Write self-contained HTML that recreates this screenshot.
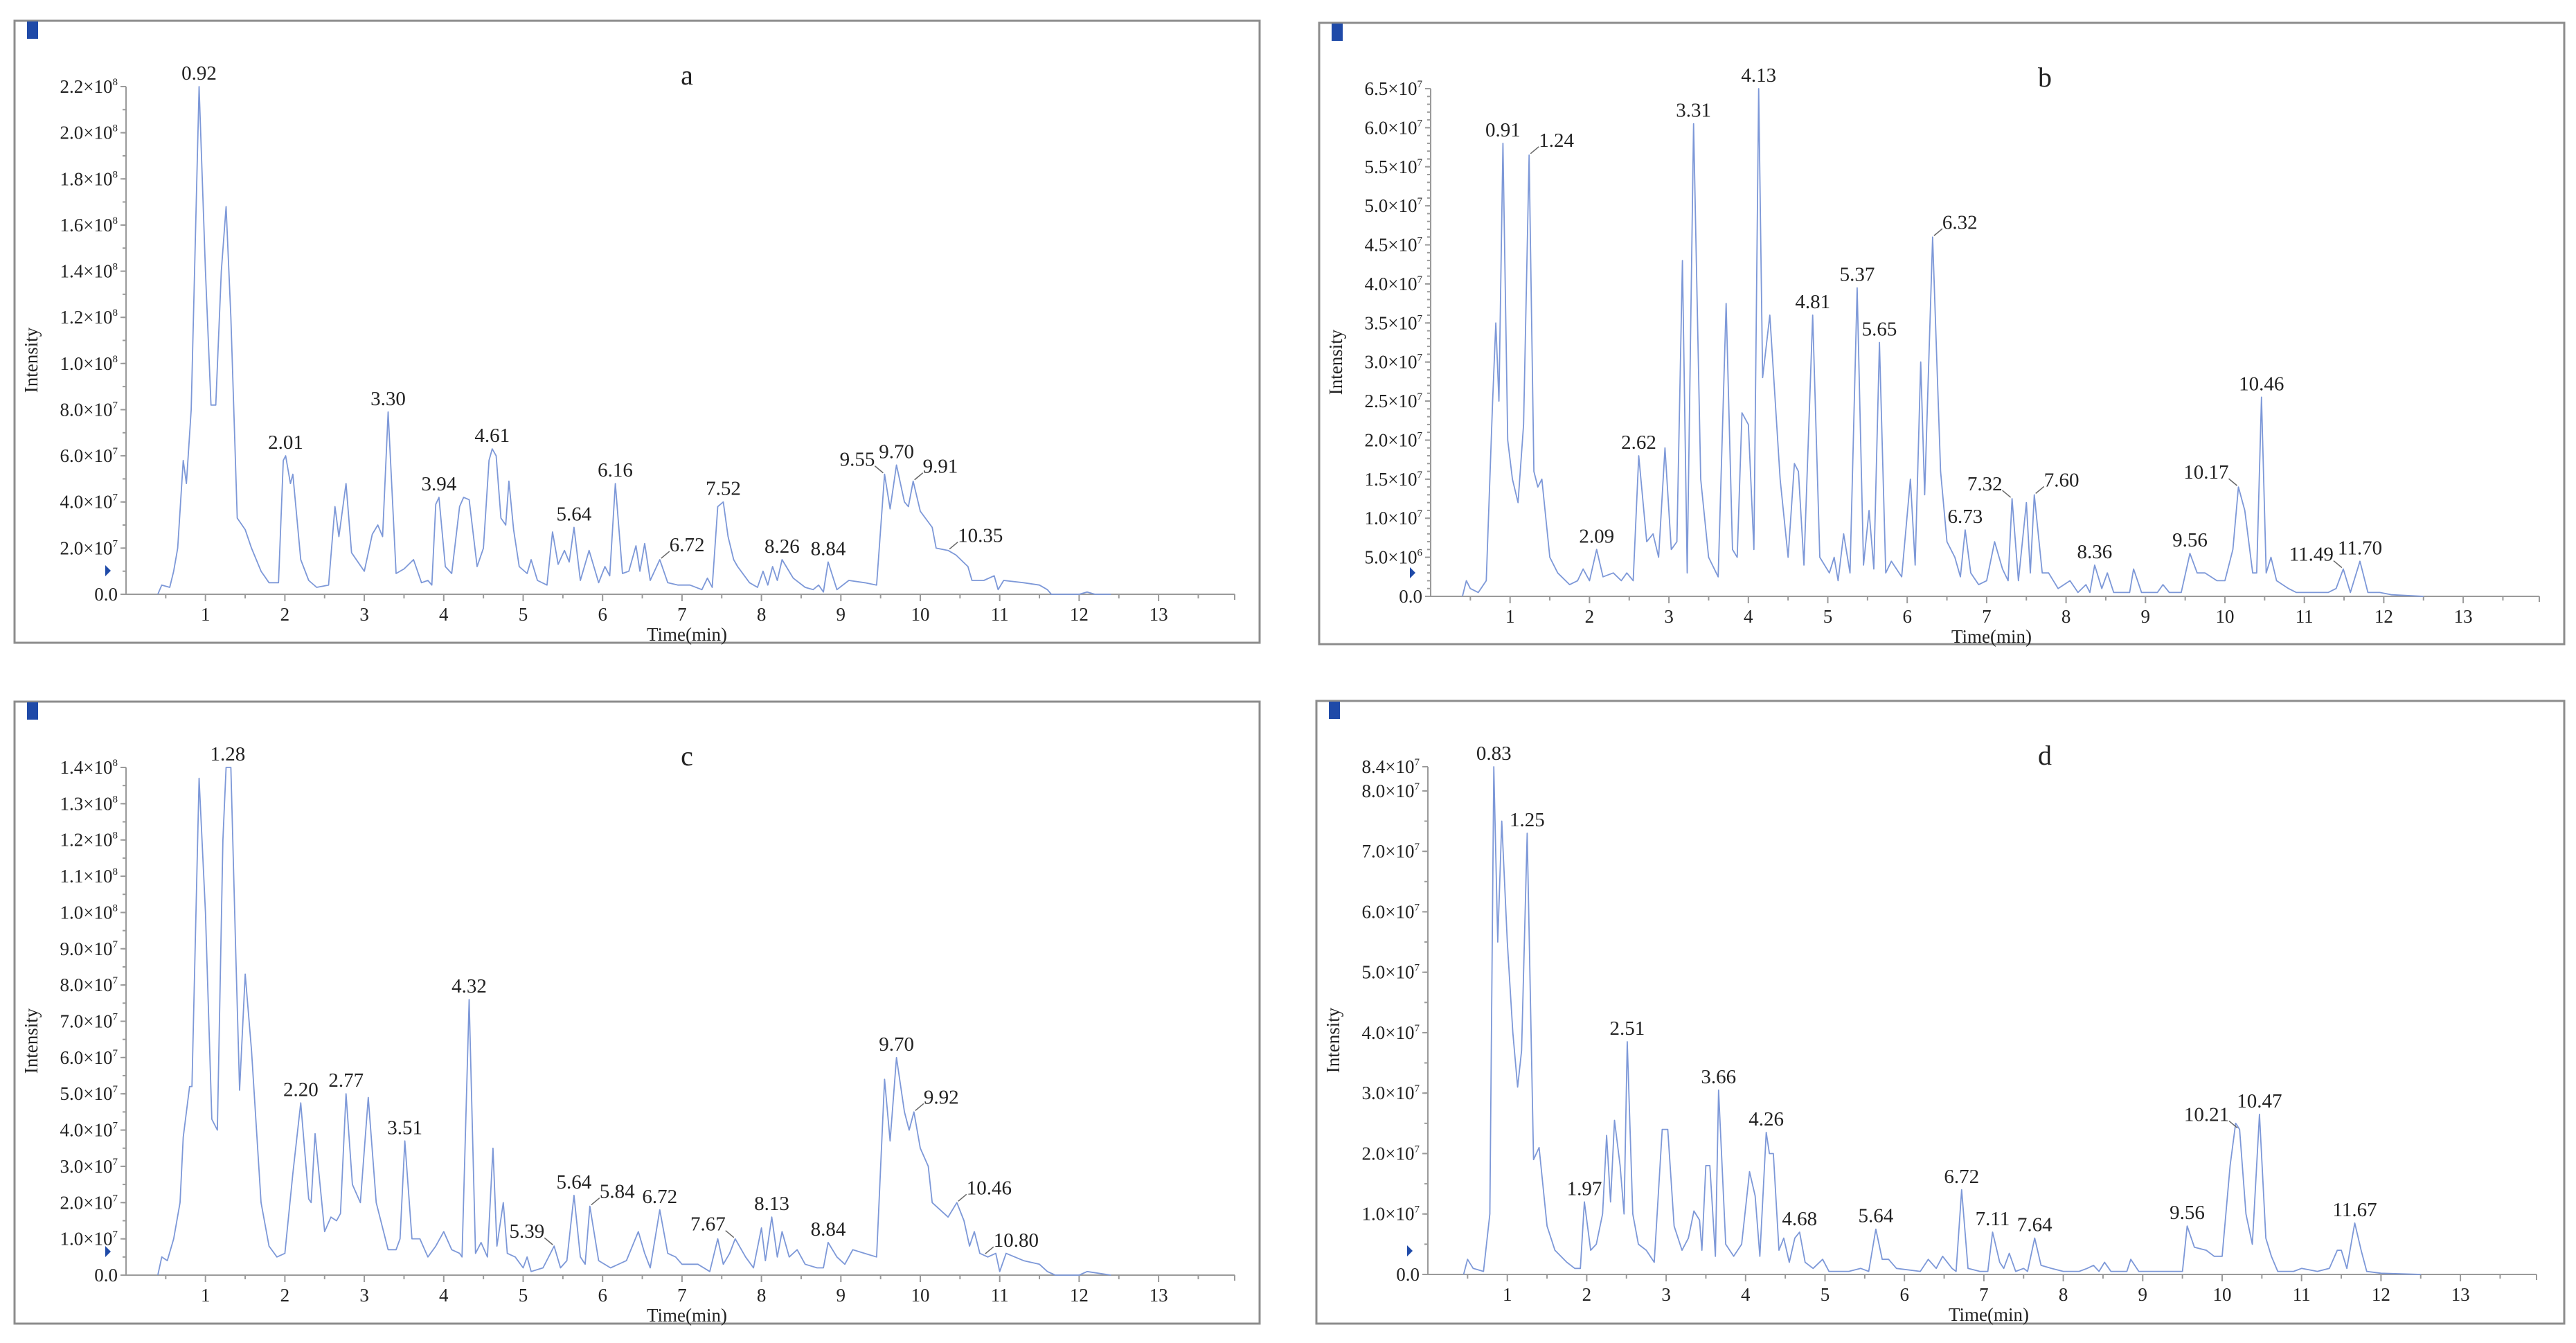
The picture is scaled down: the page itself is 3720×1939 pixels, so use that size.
<!DOCTYPE html>
<html><head><meta charset="utf-8">
<style>
html,body{margin:0;padding:0;background:#fff;}
svg{display:block;}
text{font-family:"Liberation Serif","DejaVu Serif",serif;fill:#222;}
</style></head>
<body>
<svg id="root" width="3720" height="1939" viewBox="0 0 3720 1939" xmlns="http://www.w3.org/2000/svg"></svg>
<script>
// ---------- DATA (intensity in units of 1e7, time in min) ----------
const aTimes=[0.40,0.45,0.55,0.60,0.65,0.72,0.76,0.82,0.92,1.00,1.07,1.13,1.20,1.26,1.32,1.40,1.50,1.58,1.70,1.80,1.92,1.98,2.01,2.07,2.10,2.20,2.30,2.40,2.55,2.63,2.68,2.77,2.84,3.00,3.10,3.17,3.23,3.30,3.40,3.50,3.62,3.72,3.80,3.85,3.90,3.94,4.02,4.10,4.20,4.25,4.32,4.42,4.50,4.57,4.61,4.66,4.72,4.78,4.82,4.88,4.95,5.05,5.10,5.18,5.30,5.37,5.44,5.52,5.58,5.64,5.72,5.83,5.95,6.03,6.09,6.16,6.25,6.33,6.42,6.47,6.53,6.60,6.72,6.82,6.95,7.10,7.25,7.32,7.38,7.45,7.52,7.58,7.65,7.70,7.85,7.95,8.02,8.08,8.14,8.20,8.26,8.40,8.55,8.65,8.72,8.78,8.84,8.95,9.10,9.30,9.45,9.55,9.62,9.70,9.80,9.85,9.91,10.00,10.15,10.20,10.35,10.45,10.60,10.65,10.80,10.93,10.98,11.05,11.30,11.50,11.60,11.65,12.00,12.10,12.20,12.40];
const aValues=[0,0.4,0.3,1.0,2.0,5.8,4.8,8.0,22,14,8.2,8.2,14,16.8,12,3.3,2.8,2.0,1.0,0.5,0.5,5.8,6.0,4.8,5.2,1.5,0.6,0.3,0.4,3.8,2.5,4.8,1.8,1.0,2.6,3.0,2.5,7.9,0.9,1.1,1.5,0.5,0.6,0.4,3.9,4.2,1.2,0.9,3.8,4.2,4.1,1.2,2.0,5.8,6.3,6.0,3.3,3.0,4.9,2.8,1.2,0.9,1.5,0.6,0.4,2.7,1.3,1.9,1.4,2.9,0.6,1.9,0.5,1.2,0.8,4.8,0.9,1.0,2.1,1.0,2.2,0.6,1.5,0.5,0.4,0.4,0.2,0.7,0.3,3.8,4.0,2.5,1.5,1.2,0.5,0.3,1.0,0.4,1.2,0.6,1.5,0.7,0.3,0.2,0.4,0.1,1.4,0.2,0.6,0.5,0.4,5.2,3.7,5.6,4.0,3.8,4.9,3.6,2.9,2.0,1.9,1.7,1.2,0.6,0.6,0.8,0.2,0.6,0.5,0.4,0.2,0,0,0.1,0,0];
const aLabels=["0.92","2.01","3.30","3.94","4.61","5.64","6.16","6.72","7.52","8.26","8.84","9.55","9.70","9.91","10.35"];
const aAnchor=["c","c","c","c","c","c","c","r","c","c","c","l","c","r","r"];
const aTickVals=[0,2,4,6,8,10,12,14,16,18,20,22];
const aTickLabels=["0.0","2.0×10|7","4.0×10|7","6.0×10|7","8.0×10|7","1.0×10|8","1.2×10|8","1.4×10|8","1.6×10|8","1.8×10|8","2.0×10|8","2.2×10|8"];

const bTimes=[0.40,0.45,0.50,0.60,0.70,0.78,0.82,0.86,0.91,0.97,1.03,1.10,1.17,1.24,1.30,1.35,1.40,1.50,1.60,1.75,1.85,1.92,2.00,2.09,2.17,2.30,2.40,2.47,2.55,2.62,2.72,2.80,2.87,2.95,3.03,3.10,3.17,3.23,3.31,3.40,3.50,3.62,3.72,3.80,3.86,3.92,4.00,4.07,4.13,4.18,4.27,4.40,4.50,4.58,4.63,4.70,4.81,4.90,5.02,5.08,5.13,5.20,5.28,5.37,5.45,5.52,5.58,5.65,5.73,5.80,5.93,6.04,6.10,6.17,6.22,6.32,6.42,6.50,6.60,6.67,6.73,6.80,6.90,7.00,7.10,7.20,7.27,7.32,7.40,7.50,7.55,7.60,7.70,7.78,7.90,8.05,8.15,8.25,8.30,8.36,8.45,8.52,8.60,8.80,8.85,8.95,9.15,9.22,9.30,9.45,9.56,9.65,9.75,9.90,10.00,10.10,10.17,10.25,10.35,10.40,10.46,10.52,10.58,10.65,10.80,10.90,11.30,11.40,11.49,11.58,11.70,11.80,11.95,12.10,12.50];
const bValues=[0,0.2,0.1,0.05,0.2,2.5,3.5,2.5,5.8,2.0,1.5,1.2,2.2,5.65,1.6,1.4,1.5,0.5,0.3,0.15,0.2,0.35,0.2,0.6,0.25,0.3,0.2,0.3,0.2,1.8,0.7,0.8,0.5,1.9,0.6,0.7,4.3,0.3,6.05,1.5,0.5,0.25,3.75,0.6,0.5,2.35,2.2,0.6,6.5,2.8,3.6,1.5,0.5,1.7,1.6,0.4,3.6,0.5,0.3,0.5,0.2,0.8,0.3,3.95,0.4,1.1,0.35,3.25,0.3,0.45,0.25,1.5,0.4,3.0,1.3,4.6,1.6,0.7,0.5,0.25,0.85,0.3,0.15,0.2,0.7,0.35,0.2,1.25,0.2,1.2,0.3,1.3,0.3,0.3,0.1,0.2,0.05,0.15,0.05,0.4,0.1,0.3,0.05,0.05,0.35,0.05,0.05,0.15,0.05,0.05,0.55,0.3,0.3,0.2,0.2,0.6,1.4,1.1,0.3,0.3,2.55,0.3,0.5,0.2,0.1,0.05,0.05,0.1,0.35,0.05,0.45,0.05,0.05,0.02,0];
const bLabels=["0.91","1.24","2.09","2.62","3.31","4.13","4.81","5.37","5.65","6.32","6.73","7.32","7.60","8.36","9.56","10.17","10.46","11.49","11.70"];
const bAnchor=["c","r","c","c","c","c","c","c","c","r","c","l","r","c","c","l","c","l","c"];
const bTickVals=[0,0.5,1,1.5,2,2.5,3,3.5,4,4.5,5,5.5,6,6.5];
const bTickLabels=["0.0","5.0×10|6","1.0×10|7","1.5×10|7","2.0×10|7","2.5×10|7","3.0×10|7","3.5×10|7","4.0×10|7","4.5×10|7","5.0×10|7","5.5×10|7","6.0×10|7","6.5×10|7"];

const cTimes=[0.40,0.45,0.52,0.60,0.68,0.72,0.80,0.83,0.92,1.00,1.08,1.15,1.22,1.26,1.32,1.38,1.43,1.50,1.58,1.70,1.80,1.90,2.00,2.10,2.20,2.30,2.33,2.38,2.50,2.58,2.65,2.70,2.77,2.85,2.95,3.05,3.15,3.30,3.40,3.45,3.51,3.60,3.70,3.80,3.90,4.00,4.10,4.20,4.23,4.32,4.40,4.47,4.55,4.62,4.67,4.75,4.80,4.90,5.00,5.05,5.10,5.25,5.39,5.47,5.55,5.64,5.72,5.78,5.84,5.95,6.10,6.30,6.45,6.53,6.60,6.72,6.82,6.92,7.00,7.20,7.35,7.45,7.52,7.60,7.67,7.80,7.90,8.00,8.05,8.13,8.20,8.26,8.35,8.45,8.55,8.70,8.78,8.84,8.95,9.05,9.15,9.30,9.45,9.55,9.62,9.70,9.80,9.86,9.92,10.00,10.10,10.15,10.25,10.35,10.46,10.55,10.62,10.68,10.75,10.85,10.95,11.00,11.08,11.30,11.50,11.60,11.70,12.00,12.10,12.40];
const cValues=[0,0.5,0.4,1.0,2.0,3.8,5.2,5.2,13.7,10,4.3,4.0,12,14,14,9,5.1,8.3,6.2,2.0,0.8,0.5,0.6,2.8,4.75,2.1,2.0,3.9,1.2,1.6,1.5,1.7,5.0,2.5,2.0,4.9,2.0,0.7,0.7,1.0,3.7,1.0,1.0,0.5,0.8,1.2,0.7,0.6,0.5,7.6,0.6,0.9,0.5,3.5,0.8,2.0,0.6,0.5,0.2,0.5,0.1,0.2,0.8,0.2,0.4,2.2,0.5,0.3,1.9,0.4,0.2,0.4,1.2,0.6,0.2,1.8,0.6,0.5,0.3,0.3,0.1,1.0,0.3,0.6,1.0,0.5,0.2,1.3,0.4,1.6,0.5,1.2,0.5,0.7,0.3,0.2,0.2,0.9,0.5,0.3,0.7,0.6,0.5,5.4,3.7,6.0,4.5,4.0,4.5,3.5,3.0,2.0,1.8,1.6,2.0,1.5,0.8,1.2,0.6,0.5,0.6,0.1,0.6,0.4,0.3,0.1,0,0,0.1,0];
const cLabels=["1.28","2.20","2.77","3.51","4.32","5.39","5.64","5.84","6.72","7.67","8.13","8.84","9.70","9.92","10.46","10.80"];
const cAnchor=["c","c","c","c","c","l","c","r","c","l","c","c","c","r","r","r"];
const cTickVals=[0,1,2,3,4,5,6,7,8,9,10,11,12,13,14];
const cTickLabels=["0.0","1.0×10|7","2.0×10|7","3.0×10|7","4.0×10|7","5.0×10|7","6.0×10|7","7.0×10|7","8.0×10|7","9.0×10|7","1.0×10|8","1.1×10|8","1.2×10|8","1.3×10|8","1.4×10|8"];

const dTimes=[0.45,0.50,0.57,0.70,0.78,0.83,0.88,0.93,1.00,1.07,1.13,1.18,1.25,1.33,1.40,1.50,1.60,1.75,1.85,1.92,1.97,2.05,2.12,2.20,2.25,2.30,2.35,2.42,2.47,2.51,2.58,2.65,2.75,2.85,2.95,3.02,3.10,3.20,3.28,3.35,3.42,3.45,3.50,3.55,3.62,3.66,3.75,3.85,3.95,4.05,4.12,4.18,4.26,4.30,4.35,4.42,4.48,4.55,4.62,4.68,4.75,4.85,4.97,5.05,5.30,5.45,5.55,5.64,5.72,5.80,5.90,6.20,6.30,6.40,6.48,6.60,6.65,6.72,6.80,6.95,7.05,7.11,7.20,7.25,7.32,7.40,7.50,7.55,7.64,7.72,7.85,8.00,8.20,8.30,8.38,8.45,8.52,8.60,8.80,8.85,8.95,9.40,9.50,9.56,9.65,9.80,9.90,10.00,10.10,10.17,10.22,10.30,10.38,10.47,10.55,10.62,10.70,10.90,11.00,11.20,11.35,11.45,11.50,11.57,11.67,11.75,11.82,12.00,12.50];
const dValues=[0,0.25,0.1,0.05,1.0,8.4,5.5,7.5,5.5,4.0,3.1,3.7,7.3,1.9,2.1,0.8,0.4,0.2,0.1,0.1,1.2,0.4,0.5,1.0,2.3,1.2,2.55,1.8,1.0,3.85,1.0,0.5,0.4,0.2,2.4,2.4,0.8,0.4,0.6,1.05,0.9,0.4,1.8,1.8,0.3,3.05,0.5,0.3,0.5,1.7,1.3,0.3,2.35,2.0,2.0,0.4,0.6,0.2,0.6,0.7,0.2,0.1,0.25,0.05,0.05,0.1,0.05,0.75,0.25,0.25,0.1,0.05,0.25,0.1,0.3,0.1,0.05,1.4,0.1,0.05,0.05,0.7,0.2,0.1,0.35,0.05,0.1,0.05,0.6,0.15,0.1,0.05,0.05,0.1,0.15,0.05,0.2,0.05,0.05,0.25,0.05,0.05,0.05,0.8,0.45,0.4,0.3,0.3,1.8,2.5,2.4,1.0,0.5,2.65,0.6,0.3,0.05,0.05,0.1,0.05,0.1,0.4,0.4,0.1,0.85,0.4,0.05,0.02,0];
const dLabels=["0.83","1.25","1.97","2.51","3.66","4.26","4.68","5.64","6.72","7.11","7.64","9.56","10.21","10.47","11.67"];
const dAnchor=["c","c","c","c","c","c","c","c","c","c","c","c","l","c","c"];
const dTickVals=[0,1,2,3,4,5,6,7,8,8.4];
const dTickLabels=["0.0","1.0×10|7","2.0×10|7","3.0×10|7","4.0×10|7","5.0×10|7","6.0×10|7","7.0×10|7","8.0×10|7","8.4×10|7"];

const xTicks=[1,2,3,4,5,6,7,8,9,10,11,12,13];

// ---------- DRAWING ----------
const NS="http://www.w3.org/2000/svg";
const root=document.getElementById('root');
function mk(tag,attrs,parent){const e=document.createElementNS(NS,tag);for(const k in attrs)e.setAttribute(k,attrs[k]);(parent||root).appendChild(e);return e;}

function panel(cfg){
  const {id,fx,fy,fw,fh,times,values,labels,anchor,tickVals,tickLabels,ymax,minorStep,letter,letterDx}=cfg;
  const g=mk('g',{});
  
  
  const frame=mk('rect',{x:fx,y:fy,width:fw,height:fh,fill:'none',stroke:'#8c8c8c','stroke-width':3},g);
  
  
  const mark=mk('rect',{x:fx+18,y:fy+1,width:16,height:25,fill:'#1f4aa8'},g);
  
  
  const ax0=fx+161, ax1=fx+1762, y0=fy+828, yTop=fy+95, pxMin=114.7;
  const X=t=>ax0+t*pxMin;
  const Y=v=>y0-(v/ymax)*(y0-yTop);
  const yAxis=mk('line',{x1:ax0,y1:y0,x2:ax0,y2:yTop,stroke:'#9a9a9a','stroke-width':2},g);
  
  
  const xAxis=mk('line',{x1:ax0,y1:y0,x2:ax1,y2:y0,stroke:'#9a9a9a','stroke-width':2},g);
  
  
  mk('line',{x1:ax1,y1:y0,x2:ax1,y2:y0+8,stroke:'#9a9a9a','stroke-width':2},g);
  for(let v=0;v<=ymax+1e-9;v+=minorStep){
    mk('line',{x1:ax0-5,y1:Y(v),x2:ax0,y2:Y(v),stroke:'#9a9a9a','stroke-width':2},g);
  }
  tickVals.forEach((v,i)=>{
    mk('line',{x1:ax0-8,y1:Y(v),x2:ax0,y2:Y(v),stroke:'#9a9a9a','stroke-width':2},g);
    const parts=tickLabels[i].split('|');
    const t=mk('text',{x:ax0-12,y:Y(v)+9,'text-anchor':'end','font-size':27},g);
    
    
    t.textContent=parts[0];
    if(parts[1]){const s=mk('tspan',{'font-size':15,dy:-11},t);s.textContent=parts[1];}
  });
  for(let t=0.5;t<=13.9;t+=0.5){
    const major=Math.abs(t-Math.round(t))<1e-6;
    mk('line',{x1:X(t),y1:y0,x2:X(t),y2:y0+(major?10:6),stroke:'#9a9a9a','stroke-width':2},g);
  }
  xTicks.forEach(t=>{
    const tx=mk('text',{x:X(t),y:y0+38,'text-anchor':'middle','font-size':27},g);
    
    
    tx.textContent=String(t);
  });
  const xt=mk('text',{x:fx+971,y:fy+895,'text-anchor':'middle','font-size':27},g);
  
  
  xt.textContent='Time(min)';
  const yt=mk('text',{x:0,y:0,'text-anchor':'middle','font-size':27,transform:`translate(${fx+33},${fy+490}) rotate(-90)`},g);
  
  
  yt.textContent='Intensity';
  const lt=mk('text',{x:fx+letterDx,y:fy+92,'text-anchor':'middle','font-size':40},g);
  
  
  lt.textContent=letter;
  const tri=mk('path',{d:`M${ax0-30},${y0-42} l8,8 l-8,8 z`,fill:'#1f4aa8'},g);
  
  
  let d='';
  times.forEach((t,i)=>{d+=(i?'L':'M')+X(t).toFixed(1)+','+Y(values[i]).toFixed(1);});
  const line=mk('path',{d:d,fill:'none',stroke:'#7d98d8','stroke-width':1.8,'stroke-linejoin':'round'},g);
  
  
  function valAt(t){
    let best=0;
    for(let i=0;i<times.length;i++){ if(Math.abs(times[i]-t)<=0.04 && values[i]>best) best=values[i]; }
    if(best===0){for(let i=1;i<times.length;i++){if(times[i]>=t){best=values[i-1]+(values[i]-values[i-1])*(t-times[i-1])/(times[i]-times[i-1]);break;}}}
    return best;
  }
  labels.forEach((lab,i)=>{
    const t=parseFloat(lab), px=X(t), py=Y(valAt(t));
    const a=anchor[i];
    let tx=px, ty=py-10, ta='middle';
    if(a==='r'){tx=px+14;ty=py-12;ta='start';mk('line',{x1:px+2,y1:py-2,x2:px+14,y2:py-12,stroke:'#666','stroke-width':1.5},g);}
    if(a==='l'){tx=px-14;ty=py-12;ta='end';mk('line',{x1:px-2,y1:py-2,x2:px-14,y2:py-12,stroke:'#666','stroke-width':1.5},g);}
    const te=mk('text',{x:tx,y:ty,'text-anchor':ta,'font-size':29},g);
    
    
    te.textContent=lab;
  });
}

panel({id:'a',fx:21,fy:30,fw:1798,fh:898,times:aTimes,values:aValues,labels:aLabels,anchor:aAnchor,tickVals:aTickVals,tickLabels:aTickLabels,ymax:22,minorStep:1,letter:'a',letterDx:971});
panel({id:'b',fx:1905,fy:33,fw:1798,fh:897,times:bTimes,values:bValues,labels:bLabels,anchor:bAnchor,tickVals:bTickVals,tickLabels:bTickLabels,ymax:6.5,minorStep:0.1,letter:'b',letterDx:1048});
panel({id:'c',fx:21,fy:1013,fw:1798,fh:898,times:cTimes,values:cValues,labels:cLabels,anchor:cAnchor,tickVals:cTickVals,tickLabels:cTickLabels,ymax:14,minorStep:0.5,letter:'c',letterDx:971});
panel({id:'d',fx:1901,fy:1012,fw:1802,fh:899,times:dTimes,values:dValues,labels:dLabels,anchor:dAnchor,tickVals:dTickVals,tickLabels:dTickLabels,ymax:8.4,minorStep:0.5,letter:'d',letterDx:1052});
</script>
</body></html>
